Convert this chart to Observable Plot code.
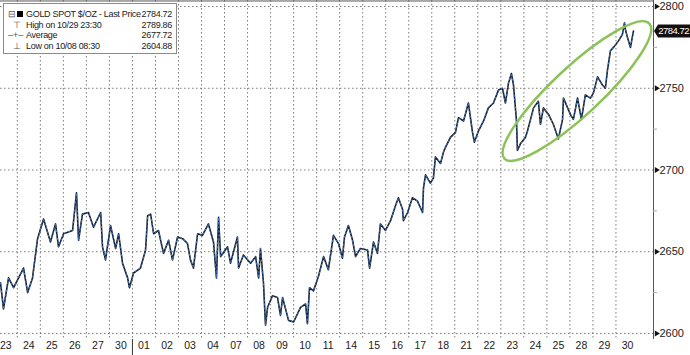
<!DOCTYPE html>
<html><head><meta charset="utf-8">
<script src="https://cdn.jsdelivr.net/npm/d3@7"></script>
<script src="https://cdn.jsdelivr.net/npm/@observablehq/plot@0.6"></script>
<style>
body{margin:0;background:#fff;}
#wrap{position:relative;width:690px;height:355px;overflow:hidden;}
#legend{position:absolute;left:3px;top:3px;width:172px;height:49px;border:1px solid #8a8a8a;background:#fff;font:9px "Liberation Sans",Arial,sans-serif;letter-spacing:-0.3px;color:#1a1a1a;}
.row{position:absolute;left:0;right:2px;height:11px;line-height:11px;white-space:nowrap;}
.ic{position:absolute;left:4px;color:#555;letter-spacing:0;}
.sq{display:inline-block;width:6px;height:6px;background:#000;margin-left:1px;vertical-align:0px;}
.lab{position:absolute;left:22px;}
.val{position:absolute;right:2px;}
</style></head>
<body><div id="wrap"><div id="legend"></div></div>
<script>
// trading-day position (0 = 09/23 session start) and GOLD SPOT $/OZ price
const sessions = [0.27,0.40,0.62,0.84,1.27,1.45,1.66,1.88,2.14,2.44,2.66,2.79,3.01,3.40,3.57,3.66,3.83,4.09,4.31,4.62,4.70,4.83,5.05,5.27,5.40,5.57,5.79,5.87,6.05,6.35,6.57,6.66,6.79,6.92,7.13,7.35,7.57,7.74,7.96,8.18,8.39,8.52,8.65,8.83,9.04,9.30,9.52,9.65,9.74,9.83,10.13,10.26,10.56,10.61,10.82,11.13,11.35,11.48,11.56,11.69,11.78,11.87,12.08,12.30,12.43,12.52,12.78,13.00,13.30,13.52,13.60,13.69,13.86,14.08,14.30,14.51,14.73,14.95,15.12,15.21,15.38,15.56,15.69,15.90,16.21,16.30,16.47,16.64,16.77,16.99,17.21,17.42,17.55,17.73,17.77,17.95,18.16,18.38,18.60,18.64,18.73,18.94,19.07,19.16,19.38,19.51,19.60,19.81,20.03,20.16,20.38,20.59,20.68,20.77,20.85,21.03,21.25,21.46,21.68,21.90,22.07,22.20,22.33,22.46,22.55,22.68,22.72,22.85,23.07,23.16,23.29,23.42,23.63,23.72,23.85,24.07,24.28,24.50,24.68,24.72,25.02,25.15,25.33,25.50,25.67,25.89,26.02,26.20,26.41,26.54,26.63,26.76,26.89,27.11,27.28,27.37,27.41,27.50,27.63,27.72,27.76];
const prices = [2631,2615,2634,2628,2640,2625,2634,2658,2670,2656,2667,2653,2661,2663,2686,2657,2673,2674,2665,2674,2653,2645,2666,2652,2661,2643,2634,2628,2637,2640,2651,2672,2673,2661,2663,2649,2657,2645,2659,2658,2655,2645,2640,2661,2660,2667,2656,2634,2671,2647,2653,2643,2659,2640,2648,2643,2647,2634,2652,2631,2605,2616,2623,2622,2611,2622,2608,2607,2616,2618,2606,2628,2626,2635,2647,2639,2660,2655,2646,2659,2666,2657,2647,2652,2651,2640,2656,2649,2667,2663,2669,2678,2683,2676,2669,2674,2683,2681,2674,2689,2697,2692,2695,2708,2704,2711,2714,2720,2723,2732,2730,2741,2732,2723,2717,2724,2730,2738,2741,2749,2750,2741,2753,2759,2752,2730,2712,2716,2720,2724,2731,2738,2742,2728,2738,2734,2728,2719,2731,2744,2734,2731,2744,2731,2746,2744,2747,2757,2752,2750,2761,2773,2775,2779,2783,2790,2786,2781,2775,2782,2785];
const dayLabels = ["23","24","25","26","27","30","01","02","03","04","07","08","09","10","11","14","15","16","17","18","21","22","23","24","25","28","29","30"];
const yTicks = [2600,2650,2700,2750,2800];
const yMinor = [2625,2675,2725,2775];
const monthBreak = [6];
const lastPrice = 2784.72;
const legendLabels = ["GOLD SPOT $/OZ - Last Price","High on 10/29 23:30","Average","Low on 10/08 08:30"];
const legendValues = ["2784.72","2789.86","2677.72","2604.88"];
const legendIcons = ["⊟<span class='sq'></span>","&nbsp;&nbsp;⊤","–+–","&nbsp;&nbsp;⊥"];
// annotation ellipse: major-axis ends (session, price)
const ellipseEnds = [[22.18,2706.7],[28.47,2789.3]];

const data = sessions.map((t,i)=>({t, p: prices[i]}));
const xDomain = [0.27, 28.63];

const plot = Plot.plot({
  width:690, height:355, marginLeft:0, marginRight:37, marginTop:0, marginBottom:16,
  style:{fontFamily:"Liberation Sans, Arial, sans-serif", fontSize:"11px", background:"#fff", color:"#222", overflow:"visible"},
  x:{domain:xDomain, axis:null},
  y:{domain:[2596.3,2803.7], axis:null},
  marks:[
    Plot.ruleY(yTicks,{stroke:"#7a7a7a", strokeDasharray:"1.5,2.5", strokeWidth:1}),
    Plot.ruleX(d3.range(1,28),{stroke:"#7a7a7a", strokeDasharray:"1.5,2.5", strokeWidth:1}),
    Plot.ruleX(monthBreak,{stroke:"#333", insetTop:339, insetBottom:-16}),
    Plot.ruleX([xDomain[1]],{stroke:"#555"}),
    Plot.ruleY([2803.4],{stroke:"#555"}),
    Plot.ruleY(yMinor,{stroke:"#aaa", insetLeft:653, insetRight:-4}),
    Plot.line(data,{x:"t", y:"p", stroke:"#141a26", strokeWidth:1.6}),
    Plot.line(data,{x:"t", y:"p", stroke:"#3e74bd", strokeWidth:1, strokeDasharray:"1.5,2.5"}),
    Plot.dot(yTicks,{y:d=>d, frameAnchor:"right", dx:3, symbol:"triangle", r:2.2, rotate:90, fill:"#111", stroke:null}),
    Plot.text(yTicks,{y:d=>d, text:d=>String(d), frameAnchor:"right", dx:6, textAnchor:"start", fill:"#222"}),
    Plot.text(dayLabels,{x:(d,i)=>i+0.5, text:d=>d, frameAnchor:"bottom", dy:9, fill:"#222", fontSize:10.5})
  ]
});
document.getElementById("wrap").appendChild(plot);

// ellipse annotation and last-price tag, positioned through the plot scales
const sx = plot.scale("x"), sy = plot.scale("y");
const svg = d3.select(plot);
const [a,b] = ellipseEnds.map(([t,p])=>[sx.apply(t), sy.apply(p)]);
const cx=(a[0]+b[0])/2, cy=(a[1]+b[1])/2;
const rx=Math.hypot(b[0]-a[0], b[1]-a[1])/2;
const ang=Math.atan2(b[1]-a[1], b[0]-a[0])*180/Math.PI;
svg.append("ellipse").attr("cx",cx).attr("cy",cy).attr("rx",rx).attr("ry",24)
  .attr("transform",`rotate(${ang},${cx},${cy})`).attr("fill","none").attr("stroke","#8cc258").attr("stroke-width",2.5);
const ly = sy.apply(lastPrice);
svg.append("path").attr("d",`M654,${ly} l4,-6.5 h32 v13 h-32 z`).attr("fill","#111");
svg.append("text").attr("x",689).attr("y",ly).attr("dy","0.35em").attr("text-anchor","end")
  .attr("fill","#fff").attr("font-size",9.5).attr("letter-spacing","-0.5px").text(lastPrice.toFixed(2));

// legend box
const lg = document.getElementById("legend");
legendLabels.forEach((l,i)=>{
  const r=document.createElement("div"); r.className="row"; r.style.top=(5+i*10.7)+"px";
  r.innerHTML=`<span class="ic">${legendIcons[i]}</span><span class="lab">${l}</span><span class="val">${legendValues[i]}</span>`;
  lg.appendChild(r);
});
</script></body></html>
